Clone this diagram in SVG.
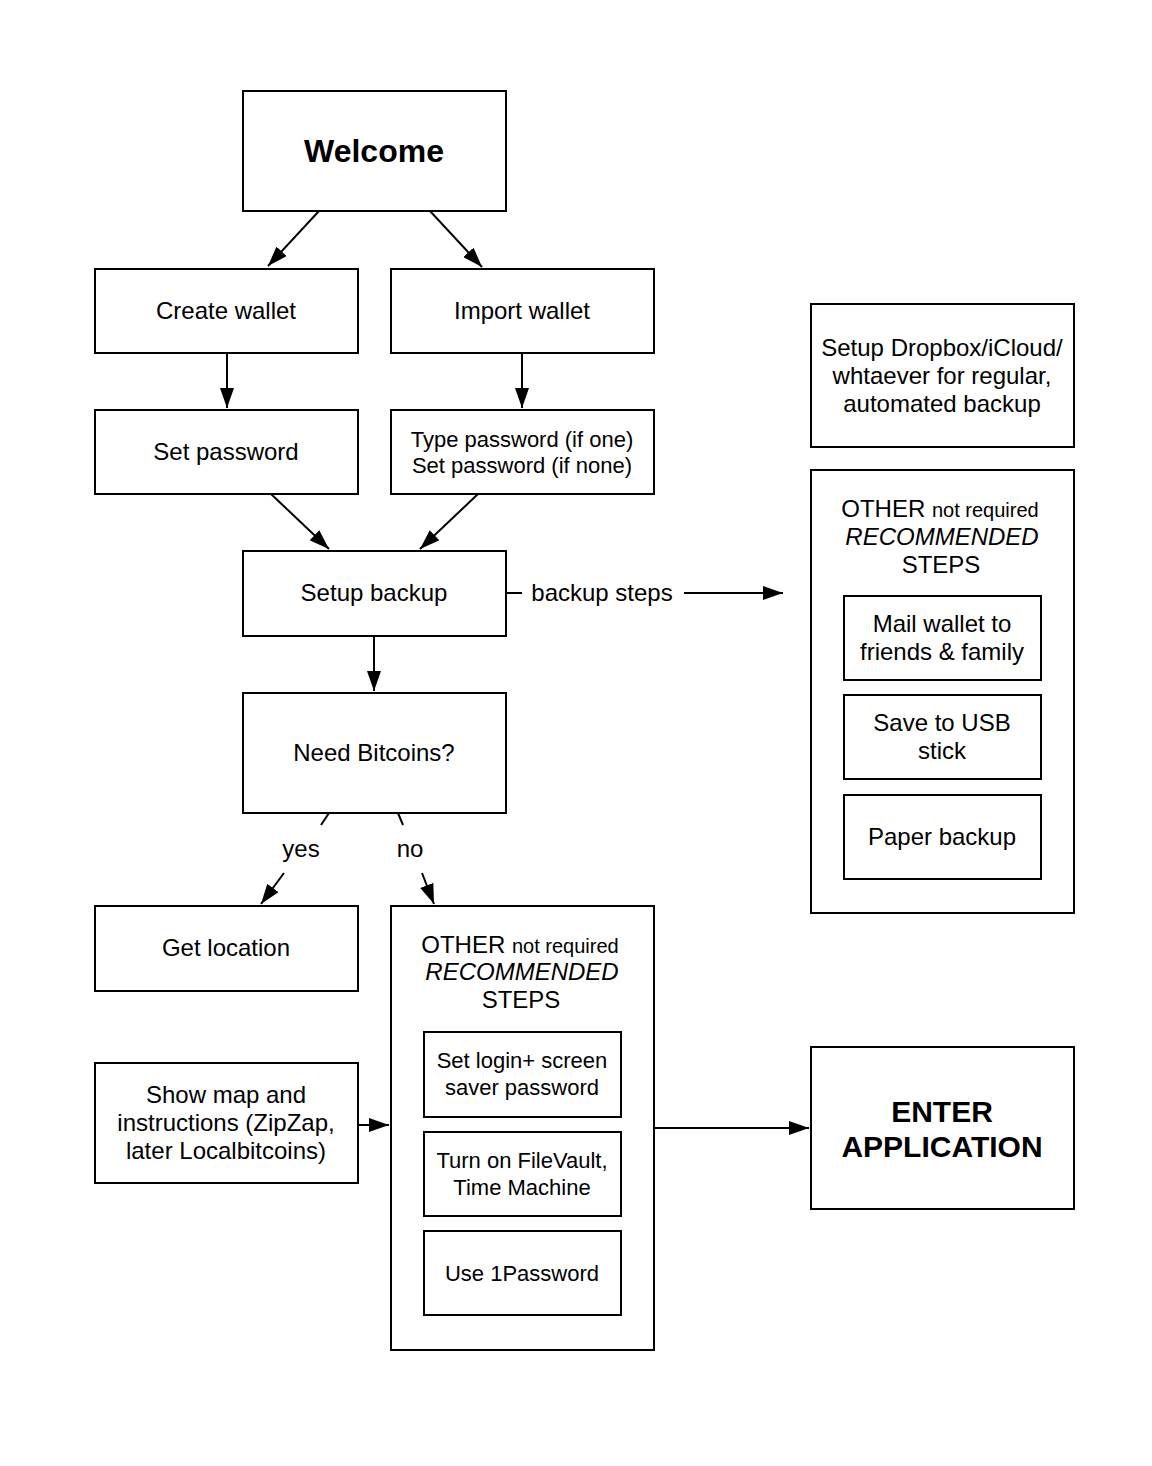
<svg xmlns="http://www.w3.org/2000/svg" width="1152" height="1466" viewBox="0 0 1152 1466">
<style>
.b{fill:#fff;stroke:#000;stroke-width:2}
.t{font-family:"Liberation Sans",Arial,sans-serif;font-size:24px;fill:#000;text-anchor:middle}
.s{font-size:22px}
.sm{font-size:20px}
.bold{font-weight:bold}
.c{fill:none;stroke:#000;stroke-width:2}
</style>
<defs>
<marker id="a" viewBox="0 0 20 14" refX="20" refY="7" markerWidth="20" markerHeight="14" markerUnits="userSpaceOnUse" orient="auto"><path d="M0,0 L20,7 L0,14 z" fill="#000"/></marker>
</defs>
<rect width="1152" height="1466" fill="#fff"/>
<g id="connectors">
<path class="c" d="M319,211 L268,266" marker-end="url(#a)"/>
<path class="c" d="M430,211 L482,267" marker-end="url(#a)"/>
<path class="c" d="M227,353 L227,408" marker-end="url(#a)"/>
<path class="c" d="M522,353 L522,408" marker-end="url(#a)"/>
<path class="c" d="M271,494 L329,549" marker-end="url(#a)"/>
<path class="c" d="M478,494 L420,549" marker-end="url(#a)"/>
<path class="c" d="M374,636 L374,691" marker-end="url(#a)"/>
<path class="c" d="M506,593 L522,593"/>
<path class="c" d="M684,593 L783,593" marker-end="url(#a)"/>
<text class="t" x="602" y="601">backup steps</text>
<path class="c" d="M329,813 L321,825"/>
<path class="c" d="M284,873 L261,904" marker-end="url(#a)"/>
<text class="t" x="301" y="857">yes</text>
<path class="c" d="M398,813 L403,825"/>
<path class="c" d="M422,873 L434,904" marker-end="url(#a)"/>
<text class="t" x="410" y="857">no</text>
<path class="c" d="M358,1125 L389,1125" marker-end="url(#a)"/>
<path class="c" d="M654,1128 L809,1128" marker-end="url(#a)"/>
</g>
<g id="welcome"><rect class="b" x="243" y="91" width="263" height="120"/><text class="t bold" x="374" y="162" style="font-size:32px">Welcome</text></g>
<g id="create-wallet"><rect class="b" x="95" y="269" width="263" height="84"/><text class="t" x="226" y="319">Create wallet</text></g>
<g id="import-wallet"><rect class="b" x="391" y="269" width="263" height="84"/><text class="t" x="522" y="319">Import wallet</text></g>
<g id="set-password"><rect class="b" x="95" y="410" width="263" height="84"/><text class="t" x="226" y="460">Set password</text></g>
<g id="type-password"><rect class="b" x="391" y="410" width="263" height="84"/><text class="t s" x="522" y="447">Type password (if one)</text><text class="t s" x="522" y="473">Set password (if none)</text></g>
<g id="setup-backup"><rect class="b" x="243" y="551" width="263" height="85"/><text class="t" x="374" y="601">Setup backup</text></g>
<g id="need-bitcoins"><rect class="b" x="243" y="693" width="263" height="120"/><text class="t" x="374" y="761">Need Bitcoins?</text></g>
<g id="get-location"><rect class="b" x="95" y="906" width="263" height="85"/><text class="t" x="226" y="956">Get location</text></g>
<g id="show-map"><rect class="b" x="95" y="1063" width="263" height="120"/><text class="t" x="226" y="1103">Show map and</text><text class="t" x="226" y="1131">instructions (ZipZap,</text><text class="t" x="226" y="1159">later Localbitcoins)</text></g>
<g id="other-steps-middle"><rect class="b" x="391" y="906" width="263" height="444"/>
<text class="t" x="520" y="953">OTHER <tspan class="sm">not required</tspan></text>
<text class="t" x="522" y="980" font-style="italic">RECOMMENDED</text>
<text class="t" x="521" y="1008">STEPS</text></g>
<g id="set-login"><rect class="b" x="424" y="1032" width="197" height="85"/><text class="t s" x="522" y="1068">Set login+ screen</text><text class="t s" x="522" y="1095">saver password</text></g>
<g id="filevault"><rect class="b" x="424" y="1132" width="197" height="84"/><text class="t s" x="522" y="1168">Turn on FileVault,</text><text class="t s" x="522" y="1195">Time Machine</text></g>
<g id="1password"><rect class="b" x="424" y="1231" width="197" height="84"/><text class="t s" x="522" y="1281">Use 1Password</text></g>
<g id="enter-application"><rect class="b" x="811" y="1047" width="263" height="162"/><text class="t bold" x="942" y="1122" style="font-size:30px">ENTER</text><text class="t bold" x="942" y="1157" style="font-size:30px">APPLICATION</text></g>
<g id="setup-dropbox"><rect class="b" x="811" y="304" width="263" height="143"/><text class="t" x="942" y="356">Setup Dropbox/iCloud/</text><text class="t" x="942" y="384">whtaever for regular,</text><text class="t" x="942" y="412">automated backup</text></g>
<g id="other-steps-right"><rect class="b" x="811" y="470" width="263" height="443"/>
<text class="t" x="940" y="517">OTHER <tspan class="sm">not required</tspan></text>
<text class="t" x="942" y="545" font-style="italic">RECOMMENDED</text>
<text class="t" x="941" y="573">STEPS</text></g>
<g id="mail-wallet"><rect class="b" x="844" y="596" width="197" height="84"/><text class="t" x="942" y="632">Mail wallet to</text><text class="t" x="942" y="660">friends &amp; family</text></g>
<g id="usb"><rect class="b" x="844" y="695" width="197" height="84"/><text class="t" x="942" y="731">Save to USB</text><text class="t" x="942" y="759">stick</text></g>
<g id="paper-backup"><rect class="b" x="844" y="795" width="197" height="84"/><text class="t" x="942" y="845">Paper backup</text></g>
</svg>
